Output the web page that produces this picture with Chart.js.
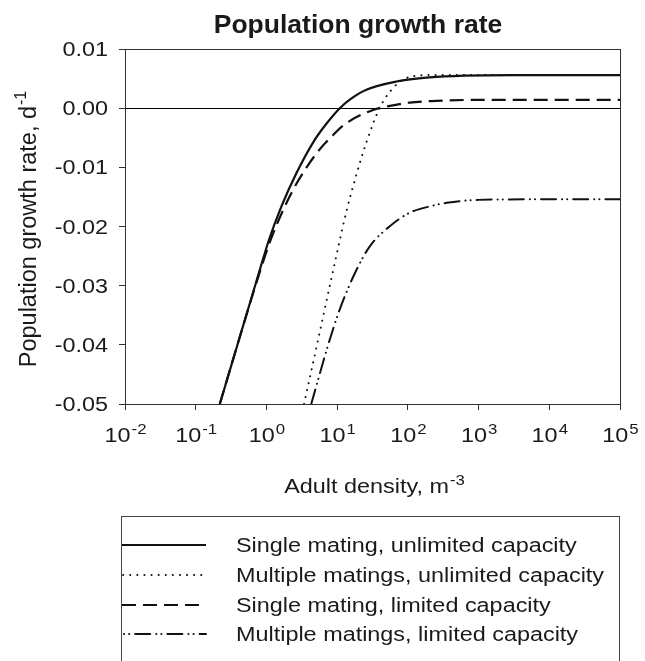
<!DOCTYPE html>
<html>
<head>
<meta charset="utf-8">
<script src="https://cdn.jsdelivr.net/npm/chart.js@4.4.1/dist/chart.umd.min.js"></script>
<style>
  html, body { margin: 0; padding: 0; background: #fff; }
  #wrap { width: 645px; height: 661px; position: relative; }
</style>
</head>
<body>
<div id="wrap"><canvas id="grafico"></canvas></div>
<script>
// densidade de adultos (m^-3) e taxa de crescimento (d^-1) de cada cenario
const densSimplesIlim = [0.219, 0.398, 0.708, 1.09, 1.63, 2.65, 4.82, 7.08, 10.9, 15.8, 25.9, 69, 204, 631, 3162, 100000]
const taxaSimplesIlim = [-0.05, -0.0396, -0.0296, -0.0222, -0.0166, -0.011, -0.00535, -0.0026, 0, 0.0016, 0.0031, 0.0045, 0.0052, 0.0055, 0.0056, 0.0056]

const densMultiIlim = [3.4, 5.41, 8.57, 13.5, 18.75, 25.9, 39.8, 58.6, 85.5, 120, 251, 100000]
const taxaMultiIlim = [-0.05, -0.039, -0.028, -0.0175, -0.0112, -0.0058, 0, 0.0031, 0.0048, 0.0054, 0.0056, 0.0056]

const densSimplesLim = [0.219, 0.398, 0.708, 1.12, 1.82, 2.68, 5.14, 8.83, 13.5, 32.2, 49.8, 106, 251, 1000, 100000]
const taxaSimplesLim = [-0.05, -0.0396, -0.0298, -0.0226, -0.0166, -0.0127, -0.0076, -0.0045, -0.00253, -0.0003, 0.00027, 0.00095, 0.00123, 0.0014, 0.0014]

const densMultiLim = [4.3, 7.87, 10.9, 17.8, 28.8, 55, 105, 204, 355, 1000, 10000, 100000]
const taxaMultiLim = [-0.05, -0.0391, -0.034, -0.0279, -0.0234, -0.02, -0.0177, -0.0166, -0.016, -0.0155, -0.0154, -0.0154]

const nomesSeries = ['Single mating, unlimited capacity', 'Multiple matings, unlimited capacity',
  'Single mating, limited capacity', 'Multiple matings, limited capacity']
const ticksX = [0.01, 0.1, 1, 10, 100, 1000, 10000, 100000]

const FONTE = '"Liberation Sans", Arial, Helvetica, sans-serif'
const ESTICA = 1.2   // o texto da figura e mais largo que alto

function pontos(xs, ys){
  return xs.map((x, i) => ({x: x, y: ys[i]}))
}

function serie(label, xs, ys, largura, traco, ponta, inicioLegenda){
  return {
    label: label,
    data: pontos(xs, ys),
    borderColor: '#111',
    borderWidth: largura,
    borderDash: traco,
    borderCapStyle: ponta,
    inicioLegenda: inicioLegenda,
    pointRadius: 0,
    fill: false,
    cubicInterpolationMode: 'monotone'
  }
}

// texto esticado na horizontal, com expoente opcional
function escreve(ctx, base, sup, x, y, tam, alinha, negrito, estica){
  if(estica == undefined) estica = ESTICA
  ctx.save()
  ctx.font = (negrito ? 'bold ' : '') + tam + 'px ' + FONTE
  let w1 = ctx.measureText(base).width * estica
  let tamSup = Math.round(tam * 0.7)
  let w2 = 0
  if(sup){
    ctx.font = tamSup + 'px ' + FONTE
    w2 = ctx.measureText(sup).width * estica
  }
  let total = w1 + w2
  let x0 = x
  if(alinha == 'center') x0 = x - total / 2
  if(alinha == 'right') x0 = x - total
  ctx.fillStyle = '#1a1a1a'
  ctx.textBaseline = 'alphabetic'
  ctx.textAlign = 'left'
  ctx.font = (negrito ? 'bold ' : '') + tam + 'px ' + FONTE
  ctx.setTransform(estica, 0, 0, 1, x0, y)
  ctx.fillText(base, 0, 0)
  if(sup){
    ctx.font = tamSup + 'px ' + FONTE
    ctx.setTransform(estica, 0, 0, 1, x0 + w1 + 1, y - tam * 0.42)
    ctx.fillText(sup, 0, 0)
  }
  ctx.restore()
}

const desenhos = {
  id: 'desenhos',
  beforeDraw(chart){
    const ctx = chart.ctx
    ctx.save()
    ctx.fillStyle = '#fff'
    ctx.fillRect(0, 0, chart.width, chart.height)
    ctx.restore()
  },
  afterDraw(chart){
    const ctx = chart.ctx
    const area = chart.chartArea
    const sx = chart.scales.x
    const sy = chart.scales.y

    // moldura da area do grafico
    ctx.save()
    ctx.strokeStyle = '#333'
    ctx.lineWidth = 1
    ctx.strokeRect(Math.round(area.left) + 0.5, Math.round(area.top) + 0.5,
      Math.round(area.right - area.left), Math.round(area.bottom - area.top))
    ctx.restore()

    // titulo
    escreve(ctx, 'Population growth rate', null, 358, 33, 26.5, 'center', true, 1)

    // rotulos do eixo y
    sy.ticks.forEach(t => {
      let py = sy.getPixelForValue(t.value)
      escreve(ctx, t.value.toFixed(2), null, area.left - 17, py + 7, 19.5, 'right')
    })

    // rotulos do eixo x em potencias de 10
    sx.ticks.forEach(t => {
      let px = sx.getPixelForValue(t.value)
      let exp = Math.round(Math.log10(t.value))
      escreve(ctx, '10', String(exp), px, 442, 19.5, 'center')
    })

    // titulos dos eixos
    escreve(ctx, 'Adult density, m', '-3', 374, 493, 19.5, 'center')

    ctx.save()
    ctx.translate(36, (area.top + area.bottom) / 2 + 3)
    ctx.rotate(-Math.PI / 2)
    ctx.fillStyle = '#1a1a1a'
    ctx.textBaseline = 'alphabetic'
    ctx.font = '23.5px ' + FONTE
    let baseY = 'Population growth rate, d'
    let wb = ctx.measureText(baseY).width
    ctx.font = '16px ' + FONTE
    let ws = ctx.measureText('-1').width
    let ini = -(wb + ws) / 2
    ctx.font = '23.5px ' + FONTE
    ctx.fillText(baseY, ini, 0)
    ctx.font = '16px ' + FONTE
    ctx.fillText('-1', ini + wb + 1, -10)
    ctx.restore()

    // legenda
    ctx.save()
    ctx.strokeStyle = '#444'
    ctx.lineWidth = 1
    ctx.strokeRect(121.5, 516.5, 498, 160)
    ctx.restore()

    const linhasY = [545, 575, 605, 634]
    chart.data.datasets.forEach((ds, i) => {
      let y = linhasY[i]
      ctx.save()
      ctx.beginPath()
      ctx.rect(122, 517, 100, 140)
      ctx.clip()
      ctx.strokeStyle = ds.borderColor
      ctx.lineWidth = ds.borderWidth
      ctx.lineCap = ds.borderCapStyle
      ctx.setLineDash(ds.borderDash)
      ctx.lineDashOffset = ds.inicioLegenda
      ctx.beginPath()
      ctx.moveTo(122, y)
      ctx.lineTo(206, y)
      ctx.stroke()
      ctx.restore()
      escreve(ctx, ds.label, null, 236, y + 7, 19.5, 'left')
    })
  }
}

new Chart(document.getElementById('grafico').getContext('2d'), {
  type: 'line',
  data: {
    datasets: [
      serie(nomesSeries[0], densSimplesIlim, taxaSimplesIlim, 2.2, [], 'butt', 0),
      serie(nomesSeries[1], densMultiIlim, taxaMultiIlim, 2, [0.1, 7], 'round', 6),
      serie(nomesSeries[2], densSimplesLim, taxaSimplesLim, 2.2, [14, 7], 'butt', 0),
      serie(nomesSeries[3], densMultiLim, taxaMultiLim, 2, [15, 6, 0.1, 5, 0.1, 6], 'round', 19)
    ]
  },
  options: {
    responsive: true,
    maintainAspectRatio: false,
    animation: false,
    layout: { padding: { top: 49, right: 25, left: 0, bottom: 0 } },
    plugins: {
      legend: { display: false },
      title: { display: false },
      tooltip: { enabled: false }
    },
    scales: {
      x: {
        type: 'logarithmic',
        min: 0.01,
        max: 100000,
        afterBuildTicks: axis => { axis.ticks = ticksX.map(v => ({ value: v })) },
        afterFit: axis => { axis.height = 257 },
        ticks: { display: false },
        grid: { display: true, drawOnChartArea: false, drawTicks: true, tickLength: 6, tickColor: '#333', color: '#333' },
        border: { display: true, color: '#333', width: 1 }
      },
      y: {
        type: 'linear',
        min: -0.05,
        max: 0.01,
        ticks: { display: false, stepSize: 0.01 },
        afterFit: axis => { axis.width = 125 },
        grid: {
          display: true,
          drawTicks: true,
          tickLength: 6,
          tickColor: '#333',
          color: c => Math.abs(c.tick.value) < 1e-9 ? '#000' : 'rgba(0,0,0,0)'
        },
        border: { display: true, color: '#333', width: 1 }
      }
    }
  },
  plugins: [desenhos]
})
</script>
</body>
</html>
